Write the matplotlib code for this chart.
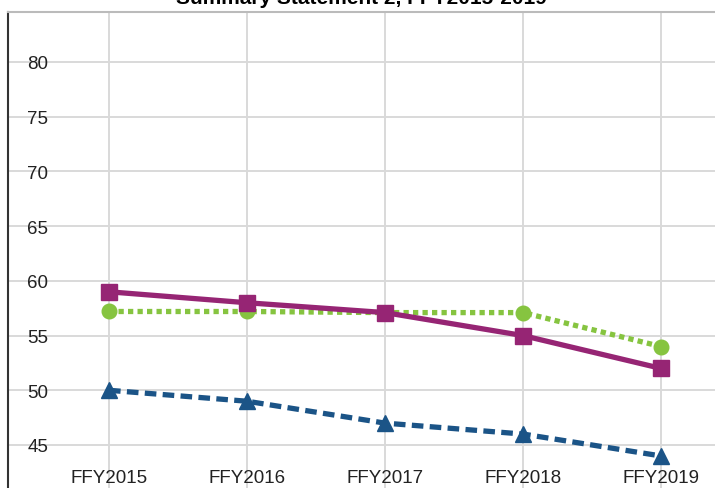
import matplotlib
matplotlib.use("Agg")
import matplotlib.pyplot as plt

years = ["FFY2015", "FFY2016", "FFY2017", "FFY2018", "FFY2019"]
purple_vals = [59, 58, 57.1, 55, 52]
green_vals = [57.2, 57.2, 57.1, 57.1, 54]
blue_vals = [50, 49, 47, 46, 44]
yticks = [45, 50, 55, 60, 65, 70, 75, 80]

plt.rcParams['font.family'] = ['Liberation Sans', 'DejaVu Sans']

W, H = 715, 489
fig = plt.figure(figsize=(W / 100, H / 100), dpi=100)
left, top, bottom = 8, 13, 489
ax = fig.add_axes([left / W, 0, 1 - left / W, (bottom - top) / H])

x = list(range(len(years)))
ax.plot(x, purple_vals, color='#962574', lw=3.8, marker='s', ms=11, zorder=4)
ax.plot(x, green_vals, color='#86c440', lw=3.8, ls=(0, (1, 0.8)), marker='o', ms=10.5, zorder=3)
ax.plot(x, blue_vals, color='#1b5487', lw=3.8, ls=(0, (2.2, 1.2)), marker='^', ms=11.5, zorder=3)

# 138 px per category, first category at x=109 px
ax.set_xlim(-(109 - left) / 138, (W - 109) / 138)
px5 = (446 - 63) / 7  # px per 5 units
ax.set_ylim(45 - (bottom - 446) / px5 * 5, 80 + (63 - top) / px5 * 5)

ax.set_xticks(x)
ax.set_xticklabels(years)
ax.set_yticks(yticks)
ax.grid(True, color='#d9d9d9', lw=1.4, zorder=0)
ax.set_axisbelow(True)

ax.tick_params(axis='x', length=0, pad=-13.5, labelsize=13.5, colors='#222222')
ax.tick_params(axis='y', length=0, pad=-29, labelsize=13.5, colors='#222222')
for lab in ax.get_yticklabels():
    lab.set_horizontalalignment('right')

ax.spines['left'].set_color('#333333')
ax.spines['left'].set_linewidth(1.5)
ax.spines['top'].set_color('#bbbbbb')
ax.spines['top'].set_linewidth(1.5)
ax.spines['right'].set_visible(False)
ax.spines['bottom'].set_visible(False)

fig.text((left + W) / 2 / W, 1 - 4 / H, "Summary Statement 2, FFY2015-2019",
         ha='center', va='baseline', fontsize=15, fontweight='bold')

fig.savefig("out.png", dpi=100)
